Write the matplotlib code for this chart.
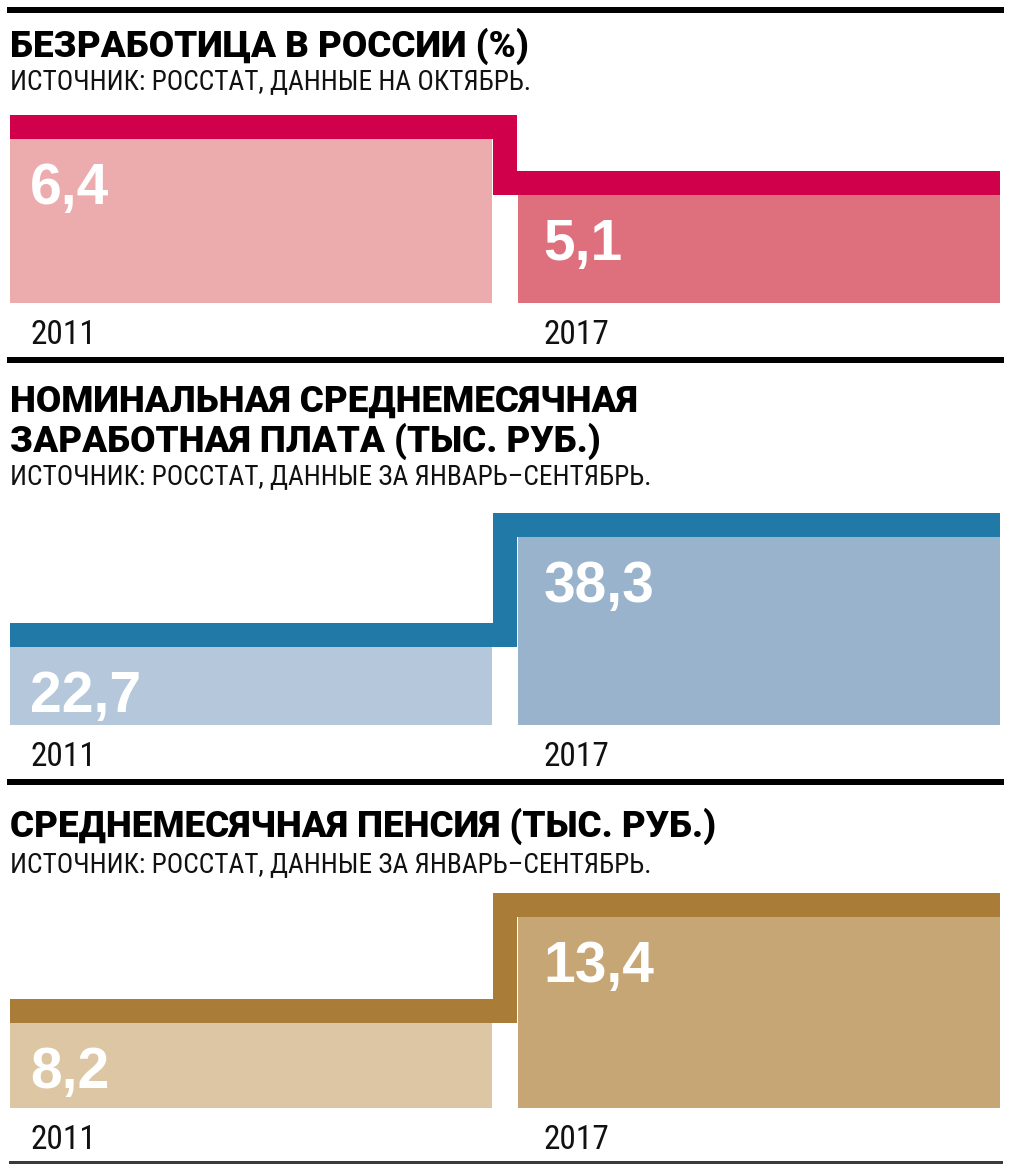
"""Russia: unemployment, wages, pensions 2011 vs 2017 — step bar panels."""

import matplotlib
import numpy as np

matplotlib.use("Agg")
import matplotlib.pyplot as plt
from matplotlib import font_manager
from matplotlib.lines import Line2D
from matplotlib.transforms import offset_copy

# Data
years = ["2011", "2017"]
unemployment = [6.4, 5.1]
salary = [22.7, 38.3]
pension = [8.2, 13.4]

titles = [
    "БЕЗРАБОТИЦА В РОССИИ (%)",
    "НОМИНАЛЬНАЯ СРЕДНЕМЕСЯЧНАЯ\nЗАРАБОТНАЯ ПЛАТА (ТЫС. РУБ.)",
    "СРЕДНЕМЕСЯЧНАЯ ПЕНСИЯ (ТЫС. РУБ.)",
]
sources = [
    "ИСТОЧНИК: РОССТАТ, ДАННЫЕ НА ОКТЯБРЬ.",
    "ИСТОЧНИК: РОССТАТ, ДАННЫЕ ЗА ЯНВАРЬ–СЕНТЯБРЬ.",
    "ИСТОЧНИК: РОССТАТ, ДАННЫЕ ЗА ЯНВАРЬ–СЕНТЯБРЬ.",
]
series = [unemployment, salary, pension]

# Styling
line_colors = ["#D0004A", "#2079A6", "#A97C37"]
bar_colors = [["#ECACAE", "#DE707E"], ["#B5C8DB", "#9AB3CD"], ["#DCC6A3", "#C6A675"]]
# (axes top px, axes bottom px, ymin, ymax)
panel_boxes = [(105, 303, 2.6, 7.19), (500, 725, 11.6, 43.51), (880, 1108, 4.03, 15.21)]
title_baselines = [57, 452, 837]
source_baselines = [89, 484, 872]
rules = [9.5, 360, 782]

W, H, DPI = 1011, 1170, 100
PT = 72 / DPI  # points per pixel
TITLE_FONT = ["Roboto", "DejaVu Sans"]
NUM_FONT = ["Liberation Sans", "DejaVu Sans"]

# pick a narrow face for small text if one is installed
narrow_file = None
for pref in ["LiberationSansNarrow-Regular", "RobotoCondensed-Regular", "DejaVuSansCondensed.ttf"]:
    for f in font_manager.fontManager.ttflist:
        if pref in f.fname:
            narrow_file = f.fname
            break
    if narrow_file:
        break
if narrow_file:
    small_font = font_manager.FontProperties(fname=narrow_file)
    small_scale = 1.0
else:
    small_font = font_manager.FontProperties(family=["Roboto", "DejaVu Sans"])
    small_scale = 0.9


def fx(px):
    return px / W


def fy(py):
    return 1 - py / H


fig = plt.figure(figsize=(W / DPI, H / DPI), dpi=DPI)
fig.patch.set_facecolor("white")

width = 0.95
x = np.arange(len(years))
label_dx = [20, 26]

for k, vals in enumerate(series):
    top, bottom, ymin, ymax = panel_boxes[k]
    ax = fig.add_axes([fx(10), fy(bottom), fx(1000) - fx(10), fy(top) - fy(bottom)])
    ax.set_xlim(-0.475, 1.475)
    ax.set_ylim(ymin, ymax)
    ax.axis("off")

    ax.bar(x, vals, width=width, bottom=0, color=bar_colors[k], linewidth=0)

    # thick step line sitting on top of the bars
    sx = [x[0] - width / 2, (x[0] + x[1]) / 2, (x[0] + x[1]) / 2, x[1] + width / 2]
    sy = [vals[0], vals[0], vals[1], vals[1]]
    tr = offset_copy(ax.transData, fig=fig, x=0, y=12, units="dots")
    ax.plot(sx, sy, color=line_colors[k], lw=24 * PT, transform=tr,
            solid_joinstyle="miter", solid_capstyle="butt", clip_on=False)

    for i, v in enumerate(vals):
        ax.annotate(f"{v:.1f}".replace(".", ","), xy=(x[i] - width / 2, v),
                    xytext=(label_dx[i] * PT, -65 * PT), textcoords="offset points",
                    ha="left", va="baseline", color="white", fontsize=41,
                    fontweight="bold", family=NUM_FONT)
        yl = ax.annotate(years[i], xy=(x[i] - width / 2, ymin),
                         xytext=(label_dx[i] * PT, -41 * PT), textcoords="offset points",
                         ha="left", va="baseline", color="#111111",
                         fontproperties=small_font, annotation_clip=False)
        yl.set_fontsize(24 * small_scale)

    fig.text(fx(10), fy(title_baselines[k]), titles[k], ha="left", va="baseline",
             fontsize=26.5, fontweight="black", family=TITLE_FONT,
             linespacing=1.12, color="black")
    src = fig.text(fx(10), fy(source_baselines[k]), sources[k], ha="left", va="baseline",
                   fontproperties=small_font, color="#111111")
    src.set_fontsize(19.7 * small_scale)

# horizontal rules
for r in rules:
    fig.add_artist(Line2D([fx(10), fx(1001)], [fy(r), fy(r)], lw=6 * PT, color="black"))
fig.add_artist(Line2D([fx(10), fx(1001)], [fy(1161.5), fy(1161.5)], lw=3 * PT, color="#3a3a3a"))

fig.savefig("out.png", dpi=DPI)
plt.close()
